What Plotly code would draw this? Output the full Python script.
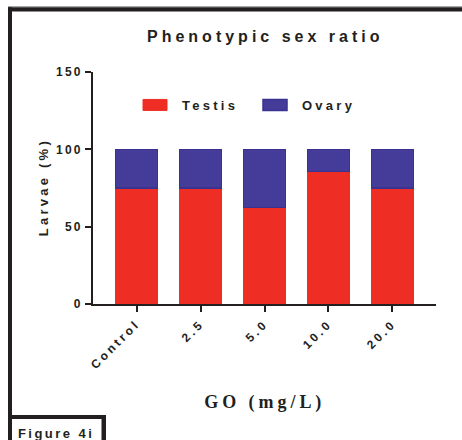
import plotly.graph_objects as go

# ---- data ----
categories = ["Control", "2.5", "5.0", "10.0", "20.0"]
testis = [75.0, 75.0, 62.5, 85.7, 75.0]
ovary = [25.0, 25.0, 37.5, 14.3, 25.0]
y_ticks = [0, 50, 100, 150]
series_names = ["Testis", "Ovary"]

INK = "#231F20"
RED = "#EE2E24"
BLUE = "#443C98"
BLUE_EDGE = "#3A3290"

W, H = 462, 440
L, R, T, B = 93, 436, 72, 304


def px(x):
    return (x - L) / (R - L)


def py(y):
    return (B - y) / (B - T)


SANS = "Liberation Sans, Arial, sans-serif"
SERIF = "Liberation Serif, Times New Roman, serif"

fig = go.Figure()
fig.add_trace(go.Bar(x=categories, y=testis, name=series_names[0],
                     marker=dict(color=RED, line=dict(color=RED, width=1))))
fig.add_trace(go.Bar(x=categories, y=ovary, name=series_names[1],
                     marker=dict(color=BLUE, line=dict(color=BLUE_EDGE, width=1.5))))

shapes = [
    # outer frame: top and left border
    dict(type="rect", xref="paper", yref="paper", x0=px(8), x1=px(W + 5), y0=py(7.2), y1=py(6.2),
         fillcolor="#8A8A8A", line=dict(width=0), layer="above"),
    dict(type="rect", xref="paper", yref="paper", x0=px(8), x1=px(W + 5), y0=py(11.5), y1=py(7.2),
         fillcolor=INK, line=dict(width=0), layer="above"),
    dict(type="rect", xref="paper", yref="paper", x0=px(8), x1=px(12), y0=py(417), y1=py(7.2),
         fillcolor=INK, line=dict(width=0), layer="above"),
    # "Figure 4i" box
    dict(type="rect", xref="paper", yref="paper", x0=px(8), x1=px(106), y0=py(H + 5), y1=py(415),
         fillcolor=INK, line=dict(width=0), layer="above"),
    dict(type="rect", xref="paper", yref="paper", x0=px(12), x1=px(101.5), y0=py(H + 5), y1=py(419),
         fillcolor="white", line=dict(width=0), layer="above"),
]

annotations = [
    dict(text="Phenotypic sex ratio", x=px(265), y=py(37), xref="paper", yref="paper",
         xanchor="center", yanchor="middle", showarrow=False,
         font=dict(family=SANS, size=16, color=INK, weight="bold")),
    dict(text="Larvae (%)", x=px(43), y=py(187), xref="paper", yref="paper", textangle=-90,
         xanchor="center", yanchor="middle", showarrow=False,
         font=dict(family=SANS, size=13, color=INK, weight="bold")),
    dict(text="GO (mg/L)", x=px(265), y=py(402), xref="paper", yref="paper",
         xanchor="center", yanchor="middle", showarrow=False,
         font=dict(family=SERIF, size=18, color=INK, weight="bold")),
    dict(text="Figure 4i", x=px(56), y=py(433.5), xref="paper", yref="paper",
         xanchor="center", yanchor="middle", showarrow=False,
         font=dict(family=SANS, size=13, color=INK, weight="bold")),
]

fig.update_layout(
    width=W, height=H, autosize=False,
    margin=dict(l=L, r=W - R, t=T, b=H - B, pad=0),
    paper_bgcolor="white", plot_bgcolor="white",
    barmode="stack", bargap=0.34,
    showlegend=True,
    legend=dict(orientation="h", x=px(142), xanchor="left", y=py(105), yanchor="middle",
                bgcolor="rgba(0,0,0,0)", traceorder="normal",
                entrywidth=75, entrywidthmode="pixels",
                font=dict(family=SANS, size=13, color=INK, weight="bold")),
    shapes=shapes,
    annotations=annotations,
    font=dict(family=SANS, color=INK),
)

fig.update_xaxes(type="category", range=[-0.68, 4.68], showline=True, linecolor=INK, linewidth=2,
                 ticks="outside", ticklen=6, tickwidth=2, tickcolor=INK, tickangle=-45,
                 showgrid=False, zeroline=False,
                 tickfont=dict(family=SANS, size=12, color=INK, weight="bold"))
fig.update_yaxes(range=[0, 150], tickvals=y_ticks, showline=True, linecolor=INK, linewidth=2,
                 ticks="outside", ticklen=6, tickwidth=2, tickcolor=INK,
                 showgrid=False, zeroline=False,
                 tickfont=dict(family=SANS, size=12, color=INK, weight="bold"))

post = """
var gd = document.getElementById('{plot_id}');
gd.querySelectorAll('text').forEach(function(t){
  if (t.textContent === 'GO (mg/L)') { t.style.letterSpacing = '0.22em'; }
  else if (t.textContent === 'Figure 4i') { t.style.letterSpacing = '0.19em'; }
  else if (t.classList.contains('ytick') || (t.parentNode && t.parentNode.classList && t.parentNode.classList.contains('ytick'))) { t.style.letterSpacing = '0.18em'; }
  else { t.style.letterSpacing = '0.25em'; }
});
gd.querySelectorAll('.legendpoints path').forEach(function(p){
  p.setAttribute('d', 'M5,5.5H-19V-5.5H5Z');
});
"""

fig.write_html("out.html", post_script=post, config={"displayModeBar": False})
